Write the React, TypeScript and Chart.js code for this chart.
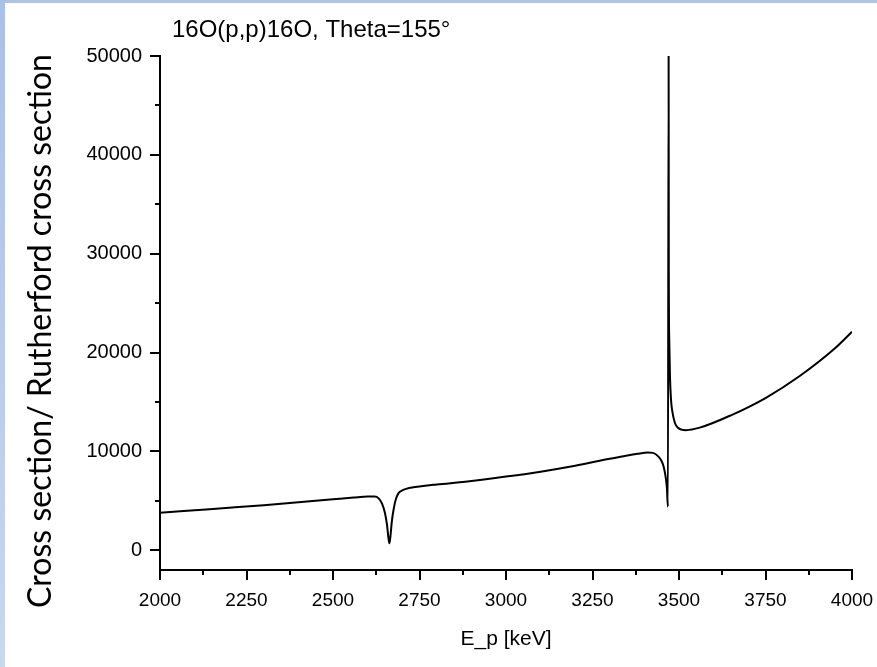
import React, { useEffect, useRef } from "react";
import { Chart, registerables } from "chart.js";

Chart.register(...registerables);

// ---------- data ----------
const chartTitle = "16O(p,p)16O, Theta=155°";
const xAxisTitle = "E_p [keV]";
const yAxisTitle = "Cross section/ Rutherford cross section";

const energies = [
  2000, 2100, 2200, 2300, 2400, 2500, 2560, 2600, 2620, 2632, 2642, 2650, 2656,
  2660, 2663, 2666, 2670, 2675, 2682, 2690, 2700, 2720, 2760, 2800, 2900, 3000,
  3100, 3200, 3300, 3380, 3410, 3425, 3440, 3450, 3456, 3461, 3465, 3468, 3470,
  3470.5, 3472, 3474, 3477, 3480, 3488, 3497, 3520, 3560, 3650, 3750, 3850,
  3950, 4000,
];
const ratios = [
  3800, 4050, 4300, 4560, 4850, 5150, 5330, 5430, 5430, 5250, 4700, 3800, 2600,
  1300, 700, 1400, 2900, 4100, 5200, 5800, 6050, 6300, 6500, 6650, 7000, 7450,
  7950, 8550, 9250, 9750, 9880, 9850, 9500, 9000, 8400, 7500, 6300, 4400, 50000,
  28300, 21000, 17500, 15200, 14200, 12900, 12400, 12150, 12400, 13650, 15400,
  17650, 20400, 22100,
];

const xMajorTicks = [2000, 2250, 2500, 2750, 3000, 3250, 3500, 3750, 4000];
const xMinorTicks = [2125, 2375, 2625, 2875, 3125, 3375, 3625, 3875];
const yMajorTicks = [0, 10000, 20000, 30000, 40000, 50000];
const yMinorTicks = [5000, 15000, 25000, 35000, 45000];

const X_MIN = 2000;
const X_MAX = 4000;
const Y_MIN = -2000;
const Y_MAX = 50000;

const W = 877;
const H = 667;

const tickMarksPlugin = {
  id: "tickMarks",
  afterDraw(chart: any) {
    const ctx = chart.ctx;
    const xs = chart.scales.x;
    const ys = chart.scales.y;
    const { left, bottom } = chart.chartArea;
    ctx.save();
    ctx.strokeStyle = "#000";
    ctx.lineWidth = 2;
    ctx.beginPath();
    xMajorTicks.forEach((v) => {
      const p = Math.round(xs.getPixelForValue(v));
      ctx.moveTo(p, bottom);
      ctx.lineTo(p, bottom + 10);
    });
    xMinorTicks.forEach((v) => {
      const p = Math.round(xs.getPixelForValue(v));
      ctx.moveTo(p, bottom);
      ctx.lineTo(p, bottom + 5);
    });
    yMajorTicks.forEach((v) => {
      const p = Math.round(ys.getPixelForValue(v));
      ctx.moveTo(left, p);
      ctx.lineTo(left - 10, p);
    });
    yMinorTicks.forEach((v) => {
      const p = Math.round(ys.getPixelForValue(v));
      ctx.moveTo(left, p);
      ctx.lineTo(left - 5, p);
    });
    ctx.stroke();

    // chart title
    ctx.fillStyle = "#000";
    ctx.font = "24px 'Liberation Sans', Arial, sans-serif";
    ctx.textAlign = "left";
    ctx.textBaseline = "alphabetic";
    ctx.fillText(chartTitle, 172, 37);

    // y axis title
    ctx.translate(41, 331);
    ctx.rotate(-Math.PI / 2);
    ctx.font = "32px Lato, 'Open Sans', sans-serif";
    ctx.textAlign = "center";
    ctx.textBaseline = "middle";
    ctx.fillText(yAxisTitle, 0, 0);
    ctx.restore();
  },
};

export default function App() {
  const canvasRef = useRef<HTMLCanvasElement | null>(null);

  useEffect(() => {
    document.body.style.margin = "0";
    const canvas = canvasRef.current;
    if (!canvas) return;
    const points = energies.map((e, i) => ({ x: e, y: ratios[i] }));
    const chart = new Chart(canvas, {
      type: "line",
      data: {
        datasets: [
          {
            data: points,
            borderColor: "#000",
            borderWidth: 2,
            pointRadius: 0,
            fill: false,
            cubicInterpolationMode: "monotone",
          },
        ],
      },
      options: {
        animation: false,
        responsive: false,
        devicePixelRatio: 1,
        layout: { padding: { top: 56, right: 25, bottom: 0, left: 0 } },
        plugins: {
          legend: { display: false },
          title: { display: false },
          tooltip: { enabled: false },
        },
        scales: {
          x: {
            type: "linear",
            min: X_MIN,
            max: X_MAX,
            afterBuildTicks: (s: any) => {
              s.ticks = xMajorTicks.map((v) => ({ value: v }));
            },
            afterFit: (s: any) => {
              s.height = 97;
              s.paddingLeft = 0;
              s.paddingRight = 0;
            },
            grid: { display: false },
            border: { display: true, color: "#000", width: 2 },
            ticks: {
              autoSkip: false,
              maxRotation: 0,
              padding: 11,
              color: "#000",
              font: { family: "'Liberation Sans', Arial, sans-serif", size: 19 },
              callback: (v: any) => String(v),
            },
            title: {
              display: true,
              text: xAxisTitle,
              color: "#000",
              font: { family: "'Liberation Sans', Arial, sans-serif", size: 21 },
              padding: { top: 0, bottom: 15 },
            },
          },
          y: {
            type: "linear",
            min: Y_MIN,
            max: Y_MAX,
            afterBuildTicks: (s: any) => {
              s.ticks = yMajorTicks.map((v) => ({ value: v }));
            },
            afterFit: (s: any) => {
              s.width = 160;
              s.paddingTop = 0;
              s.paddingBottom = 0;
            },
            grid: { display: false },
            border: { display: true, color: "#000", width: 2 },
            ticks: {
              autoSkip: false,
              padding: 10,
              color: "#000",
              font: { family: "'Liberation Sans', Arial, sans-serif", size: 20 },
              callback: (v: any) => String(v),
            },
          },
        },
      },
      plugins: [tickMarksPlugin],
    } as any);
    return () => chart.destroy();
  }, []);

  return (
    <div
      style={{
        position: "fixed",
        left: 0,
        top: 0,
        width: W,
        height: H,
        background: "#fff",
        overflow: "hidden",
      }}
    >
      <div
        style={{
          position: "absolute",
          left: 0,
          top: 0,
          width: W,
          height: 3,
          background: "#aec3e9",
        }}
      />
      <div
        style={{
          position: "absolute",
          left: 0,
          top: 0,
          width: 5,
          height: H,
          background: "linear-gradient(#a9c0e8, #c9d7ef)",
        }}
      />
      <canvas
        ref={canvasRef}
        width={W}
        height={H}
        style={{ position: "absolute", left: 0, top: 0, width: W, height: H }}
      />
    </div>
  );
}
